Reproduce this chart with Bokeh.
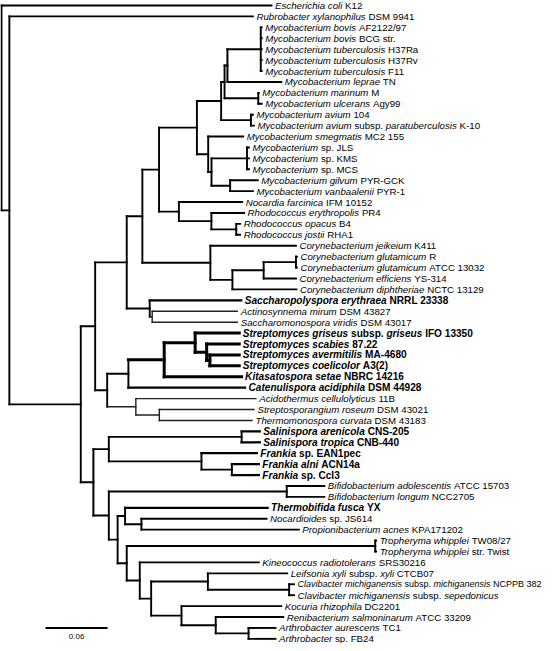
import glob
import os

from bokeh.core.properties import value
from bokeh.embed import file_html
from bokeh.models import ColumnDataSource, Range1d
from bokeh.plotting import figure
from bokeh.resources import INLINE

# ---------------------------------------------------------------- data
# leaf labels (text between * * is italic), in top-to-bottom order
LEAF_LABELS = [
    "*Escherichia coli* K12",
    "*Rubrobacter xylanophilus* DSM 9941",
    "*Mycobacterium bovis* AF2122/97",
    "*Mycobacterium bovis* BCG str.",
    "*Mycobacterium tuberculosis* H37Ra",
    "*Mycobacterium tuberculosis* H37Rv",
    "*Mycobacterium tuberculosis* F11",
    "*Mycobacterium leprae* TN",
    "*Mycobacterium marinum* M",
    "*Mycobacterium ulcerans* Agy99",
    "*Mycobacterium avium* 104",
    "*Mycobacterium avium* subsp. *paratuberculosis* K-10",
    "*Mycobacterium smegmatis* MC2 155",
    "*Mycobacterium* sp. JLS",
    "*Mycobacterium* sp. KMS",
    "*Mycobacterium* sp. MCS",
    "*Mycobacterium gilvum* PYR-GCK",
    "*Mycobacterium vanbaalenii* PYR-1",
    "*Nocardia farcinica* IFM 10152",
    "*Rhodococcus erythropolis* PR4",
    "*Rhodococcus opacus* B4",
    "*Rhodococcus jostii* RHA1",
    "*Corynebacterium jeikeium* K411",
    "*Corynebacterium glutamicum* R",
    "*Corynebacterium glutamicum* ATCC 13032",
    "*Corynebacterium efficiens* YS-314",
    "*Corynebacterium diphtheriae* NCTC 13129",
    "*Saccharopolyspora erythraea* NRRL 23338",
    "*Actinosynnema mirum* DSM 43827",
    "*Saccharomonospora viridis* DSM 43017",
    "*Streptomyces griseus* subsp. *griseus* IFO 13350",
    "*Streptomyces scabies* 87.22",
    "*Streptomyces avermitilis* MA-4680",
    "*Streptomyces coelicolor* A3(2)",
    "*Kitasatospora setae* NBRC 14216",
    "*Catenulispora acidiphila* DSM 44928",
    "*Acidothermus cellulolyticus* 11B",
    "*Streptosporangium roseum* DSM 43021",
    "*Thermomonospora curvata* DSM 43183",
    "*Salinispora arenicola* CNS-205",
    "*Salinispora tropica* CNB-440",
    "*Frankia* sp. EAN1pec",
    "*Frankia alni* ACN14a",
    "*Frankia* sp. CcI3",
    "*Bifidobacterium adolescentis* ATCC 15703",
    "*Bifidobacterium longum* NCC2705",
    "*Thermobifida fusca* YX",
    "*Nocardioides* sp. JS614",
    "*Propionibacterium acnes* KPA171202",
    "*Tropheryma whipplei* TW08/27",
    "*Tropheryma whipplei* str. Twist",
    "*Kineococcus radiotolerans* SRS30216",
    "*Leifsonia xyli* subsp. *xyli* CTCB07",
    "*Clavibacter michiganensis* subsp. *michiganensis* NCPPB 382",
    "*Clavibacter michiganensis* subsp. *sepedonicus*",
    "*Kocuria rhizophila* DC2201",
    "*Renibacterium salmoninarum* ATCC 33209",
    "*Arthrobacter aurescens* TC1",
    "*Arthrobacter* sp. FB24",
]

LEAF_PARENT = [
    "root", "A", "TB", "TB", "TB", "TB", "TB", "M2", "MU", "MU",
    "AV", "AV", "N", "P", "P", "P", "Q", "Q", "J", "K",
    "RB", "RB", "CA", "CG", "CG", "CC", "CB", "H", "H2", "H2",
    "S1", "S2", "S3", "S3", "F1a", "F1", "F2", "F3", "F3", "SA",
    "SA", "FR1", "FR2", "FR2", "BI", "BI", "D4", "D6", "D6", "TW",
    "TW", "D7", "D9", "CL", "CL", "D10", "D11", "AR", "AR",
]

# distance of each tip from the root (substitutions per site)
LEAF_DEPTH = [
    0.2609, 0.2429, 0.2514, 0.2514, 0.2514, 0.2514, 0.2514, 0.2703, 0.2486, 0.2514,
    0.2429, 0.2439, 0.2335, 0.2391, 0.2391, 0.2391, 0.2476, 0.2429, 0.2325, 0.2344,
    0.2306, 0.2306, 0.2845, 0.2854, 0.2854, 0.2845, 0.2850, 0.2316, 0.2278, 0.2278,
    0.2297, 0.2297, 0.2297, 0.2297, 0.2320, 0.2353, 0.2457, 0.2439, 0.2420, 0.2495,
    0.2495, 0.2467, 0.2486, 0.2486, 0.3119, 0.3119, 0.2571, 0.2561, 0.2873, 0.3620,
    0.3620, 0.2486, 0.2760, 0.2826, 0.2826, 0.2703, 0.2722, 0.2647, 0.2647,
]

BOLD_LEAVES = [
    "*Saccharopolyspora erythraea* NRRL 23338",
    "*Streptomyces griseus* subsp. *griseus* IFO 13350",
    "*Streptomyces scabies* 87.22",
    "*Streptomyces avermitilis* MA-4680",
    "*Streptomyces coelicolor* A3(2)",
    "*Kitasatospora setae* NBRC 14216",
    "*Catenulispora acidiphila* DSM 44928",
    "*Salinispora arenicola* CNS-205",
    "*Salinispora tropica* CNB-440",
    "*Frankia* sp. EAN1pec",
    "*Frankia alni* ACN14a",
    "*Frankia* sp. CcI3",
    "*Thermobifida fusca* YX",
]

# internal nodes: name, parent, distance from root
NODE_NAMES = [
    "root", "A", "B", "C", "E", "G", "I", "L", "M", "M1",
    "M2", "TB", "MU", "AV", "N", "O", "P", "Q", "J", "K",
    "RB", "CA", "CB", "CC", "CG", "H", "H2", "F", "F1", "F1a",
    "S1", "S2", "S3", "F2", "F3", "D", "D1", "SA", "FR1", "FR2",
    "D2", "BI", "D3", "D4", "D6", "D5", "TW", "D7", "D8", "D9",
    "CL", "D10", "D11", "AR",
]
NODE_PARENT = [
    None, "root", "A", "B", "C", "E", "G", "I", "L", "M",
    "M1", "M2", "M1", "M", "L", "N", "O", "O", "I", "J",
    "K", "G", "CA", "CB", "CC", "E", "H", "C", "F", "F1",
    "F1a", "S1", "S2", "F", "F2", "B", "D", "D1", "D1", "FR1",
    "D", "D2", "D2", "D3", "D4", "D3", "D5", "D5", "D7", "D8",
    "D9", "D8", "D10", "D11",
]
NODE_DEPTH = [
    0.0000, 0.0076, 0.0766, 0.0905, 0.1210, 0.1361, 0.1522, 0.1888, 0.2122, 0.2155,
    0.2183, 0.2505, 0.2481, 0.2410, 0.1997, 0.2029, 0.2372, 0.2209, 0.1714, 0.2028,
    0.2268, 0.2018, 0.2231, 0.2533, 0.2845, 0.1432, 0.1456, 0.1021, 0.1226, 0.1572,
    0.1871, 0.1982, 0.2013, 0.1298, 0.1525, 0.0888, 0.1037, 0.2320, 0.1932, 0.2226,
    0.1037, 0.2756, 0.1122, 0.1194, 0.1352, 0.1210, 0.3611, 0.1336, 0.1446, 0.1994,
    0.2779, 0.1739, 0.2070, 0.2387,
]

DOTTED_NODES = ["M2", "D"]      # nodes whose vertical line is dotted
DOTTED_STEMS = ["D"]            # nodes whose incoming branch is dotted
THICK_NODES = ["F1a", "S1", "S2", "S3"]
LIGHT_NODES = ["H2", "F2", "F3"]

SCALE_BAR_LENGTH = 0.06

# ---------------------------------------------------------------- layout
W, H = 544, 643
PX_PER_UNIT = 1035.0
ROOT_PX = 1.0
TOP_PX = 5.0
STEP_PX = 10.92
FONT = "Liberation Sans"
SIZE_NORMAL = 9.7
SIZE_BOLD = 10.1
GAP = 3.5

# ---------------------------------------------------------------- text metrics
def _find(fname):
    pats = ["/usr/share/fonts/**/" + fname, "/usr/local/share/fonts/**/" + fname,
            os.path.expanduser("~/.fonts/**/") + fname,
            os.path.expanduser("~/.local/share/fonts/**/") + fname]
    for pat in pats:
        hits = glob.glob(pat, recursive=True)
        if hits:
            return hits[0]
    return None

_FONT_FILES = {
    "normal": "LiberationSans-Regular.ttf",
    "italic": "LiberationSans-Italic.ttf",
    "bold": "LiberationSans-Bold.ttf",
    "bold italic": "LiberationSans-BoldItalic.ttf",
}
_fonts = {}
try:
    from PIL import ImageFont
    for k, f in _FONT_FILES.items():
        path = _find(f)
        if path:
            _fonts[k] = ImageFont.truetype(path, 100)
except Exception:
    _fonts = {}


def text_width(s, style, size):
    f = _fonts.get(style)
    if f is not None:
        try:
            return f.getlength(s) * size / 100.0
        except Exception:
            pass
    w = 0.0
    for ch in s:
        if ch in " .,/()":
            w += 0.278
        elif ch.isupper():
            w += 0.68
        elif ch in "ilj":
            w += 0.222
        elif ch in "mw":
            w += 0.8
        else:
            w += 0.53
    if "bold" in style:
        w *= 1.08
    return w * size


# ---------------------------------------------------------------- tree geometry
depth = dict(zip(NODE_NAMES, NODE_DEPTH))
parent = dict(zip(NODE_NAMES, NODE_PARENT))
children = {n: [] for n in NODE_NAMES}
for i, par in enumerate(LEAF_PARENT):
    children[par].append(("leaf", i))
for n, par in zip(NODE_NAMES, NODE_PARENT):
    if par is not None:
        children[par].append(("node", n))

_ycache = {}


def child_y(c):
    kind, key = c
    return float(key) if kind == "leaf" else node_y(key)


def node_y(n):
    if n not in _ycache:
        ys = [child_y(c) for c in children[n]]
        _ycache[n] = (min(ys) + max(ys)) / 2.0
    return _ycache[n]


STYLES = {
    "normal": dict(line_width=1.9, line_color="#000000"),
    "bold": dict(line_width=2.3, line_color="#000000"),
    "thick": dict(line_width=3.0, line_color="#000000"),
    "light": dict(line_width=1.4, line_color="#222222"),
    "dotted": dict(line_width=2.0, line_color="#000000", line_dash="2 1"),
}
segs = {k: dict(x0=[], y0=[], x1=[], y1=[]) for k in STYLES}


def add(style, x0, y0, x1, y1):
    s = segs[style]
    s["x0"].append(x0)
    s["y0"].append(y0)
    s["x1"].append(x1)
    s["y1"].append(y1)


def node_style(n):
    if n in THICK_NODES:
        return "thick"
    if n in LIGHT_NODES:
        return "light"
    return "normal"


for n in NODE_NAMES:
    ys = [child_y(c) for c in children[n]]
    vs = "dotted" if n in DOTTED_NODES else node_style(n)
    add(vs, depth[n], min(ys), depth[n], max(ys))
    par = parent[n]
    if par is not None:
        hs = "dotted" if n in DOTTED_STEMS else node_style(n)
        add(hs, depth[par], node_y(n), depth[n], node_y(n))

for i, (par, d) in enumerate(zip(LEAF_PARENT, LEAF_DEPTH)):
    if par in THICK_NODES:
        st = "thick"
    elif par in LIGHT_NODES:
        st = "light"
    elif LEAF_LABELS[i] in BOLD_LEAVES:
        st = "bold"
    else:
        st = "normal"
    add(st, depth[par], float(i), d, float(i))

# ---------------------------------------------------------------- figure
p = figure(
    width=W, height=H, output_backend="svg", toolbar_location=None,
    x_range=Range1d(-ROOT_PX / PX_PER_UNIT, (W - ROOT_PX) / PX_PER_UNIT),
    y_range=Range1d((H - TOP_PX) / STEP_PX, -TOP_PX / STEP_PX),
    min_border=0, min_border_left=0, min_border_right=0,
    min_border_top=0, min_border_bottom=0,
)
p.axis.visible = False
p.grid.visible = False
p.outline_line_color = None
p.background_fill_color = "white"
p.border_fill_color = "white"

for k, st in STYLES.items():
    if segs[k]["x0"]:
        p.segment(x0="x0", y0="y0", x1="x1", y1="y1",
                  source=ColumnDataSource(segs[k]), line_cap="square", **st)


def split_label(lab, bold):
    out = []
    for j, piece in enumerate(lab.split("*")):
        if not piece:
            continue
        ital = (j % 2 == 1)
        style = ("bold italic" if ital else "bold") if bold else ("italic" if ital else "normal")
        out.append((piece, style))
    return out


# labels: split into italic / upright pieces; shrink a label only if it would
# run past the right edge of the canvas
texts = {k: dict(x=[], y=[], t=[], off=[], fs=[]) for k in _FONT_FILES}
for i, lab in enumerate(LEAF_LABELS):
    bold = lab in BOLD_LEAVES
    size = SIZE_BOLD if bold else SIZE_NORMAL
    pieces = split_label(lab, bold)
    start_px = ROOT_PX + LEAF_DEPTH[i] * PX_PER_UNIT + GAP
    total = sum(text_width(pc, st, size) for pc, st in pieces)
    avail = W - 3 - start_px
    if total > avail:
        size = size * avail / total
    off = GAP
    for piece, style in pieces:
        lead = len(piece) - len(piece.lstrip(" "))
        lead_w = text_width(" " * lead, style, size) if lead else 0.0
        texts[style]["x"].append(LEAF_DEPTH[i])
        texts[style]["y"].append(float(i))
        texts[style]["t"].append(piece.strip(" "))
        texts[style]["off"].append(off + lead_w)
        texts[style]["fs"].append(f"{size:.2f}px")
        off += text_width(piece, style, size)

for style, d in texts.items():
    if not d["t"]:
        continue
    p.text(x="x", y="y", text="t", x_offset="off", source=ColumnDataSource(d),
           text_font=value(FONT), text_font_size="fs",
           text_font_style=style, text_align="left", text_baseline="middle",
           text_color="#000000")

# scale bar
bar_x0 = 44.0 / PX_PER_UNIT
bar_y = 57.0
p.segment(x0=[bar_x0], y0=[bar_y], x1=[bar_x0 + SCALE_BAR_LENGTH], y1=[bar_y],
          line_width=2.0, line_color="#000000")
p.text(x=[bar_x0 + SCALE_BAR_LENGTH / 2], y=[bar_y + 0.55], text=[f"{SCALE_BAR_LENGTH:.2f}"],
       text_font=value(FONT), text_font_size=value("8px"), text_align="center",
       text_baseline="top", text_color="#000000")

open("out.html", "w").write(file_html(p, INLINE))
